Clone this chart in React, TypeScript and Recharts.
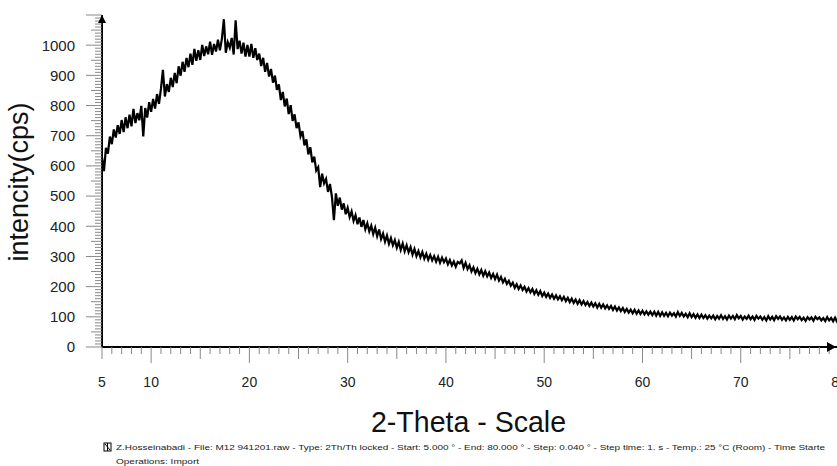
import { LineChart, Line, XAxis, YAxis } from "recharts";

// scan definition (2-theta, degrees) - points read every 0.2 deg off the pattern
const START = 5;
const STEP = 0.2;

const intensity = [
    628, 583, 660, 641, 697,
    672, 721, 694, 735, 706,
    752, 712, 761, 725, 770,
    731, 789, 742, 775, 751,
    799, 698, 792, 760, 811,
    779, 822, 790, 838, 806,
    856, 918, 830, 871, 845,
    892, 861, 908, 874, 930,
    899, 945, 912, 958, 927,
    972, 935, 988, 948, 983,
    951, 1001, 964, 996, 970,
    1012, 968, 1004, 979, 1018,
    983, 1021, 1086, 975, 1010,
    992, 1024, 969, 1082, 987,
    1015, 972, 1008, 962, 1001,
    962, 1004, 958, 990, 951,
    972, 931, 958, 912, 941,
    896, 921, 876, 899, 852,
    870, 818, 845, 797, 823,
    772, 801, 749, 771, 725,
    744, 698, 715, 668, 688,
    638, 662, 612, 631, 585,
    596, 530, 574, 542, 557,
    514, 540, 497, 420, 509,
    468, 495, 455, 476, 440,
    461, 430, 449, 418, 437,
    407, 429, 398, 421, 390,
    410, 383, 402, 374, 395,
    367, 389, 358, 376, 349,
    369, 342, 361, 337, 354,
    329, 348, 322, 343, 317,
    337, 314, 331, 306, 325,
    301, 318, 297, 315, 293,
    309, 289, 305, 287, 301,
    283, 299, 279, 296, 281,
    293, 274, 288, 270, 283,
    266, 282, 277, 287, 262,
    279, 258, 271, 250, 264,
    245, 259, 241, 255, 236,
    251, 234, 247, 229, 242,
    225, 240, 220, 232, 214,
    226, 209, 219, 203, 213,
    196, 208, 192, 204, 189,
    199, 184, 195, 181, 192,
    176, 188, 173, 185, 169,
    180, 166, 177, 163, 174,
    160, 171, 158, 168, 155,
    166, 152, 163, 149, 160,
    146, 157, 143, 155, 141,
    152, 139, 149, 136, 147,
    134, 145, 131, 143, 130,
    141, 128, 138, 126, 136,
    123, 134, 121, 131, 119,
    129, 116, 126, 114, 124,
    112, 123, 110, 121, 109,
    120, 108, 118, 107, 117,
    106, 117, 104, 116, 103,
    115, 103, 113, 102, 114,
    104, 112, 101, 116, 103,
    113, 101, 110, 99, 112,
    99, 109, 97, 108, 96,
    107, 96, 105, 94, 104,
    95, 104, 92, 103, 94,
    105, 93, 102, 91, 104,
    94, 103, 92, 106, 95,
    103, 91, 101, 93, 104,
    92, 101, 90, 103, 94,
    101, 90, 99, 88, 102,
    91, 100, 89, 102, 93,
    101, 90, 98, 88, 100,
    90, 99, 88, 101, 92,
    100, 89, 97, 87, 99,
    91, 98, 87, 100, 92,
    98, 88, 96, 86, 99,
    88, 96, 85, 97, 84,
    90,
];

const xLabels = [5, 10, 20, 30, 40, 50, 60, 70, 80];
const yLabels = [0, 100, 200, 300, 400, 500, 600, 700, 800, 900, 1000];
const xTicks = Array.from({ length: 76 }, (_, i) => 5 + i);
const yTicks = Array.from({ length: 111 }, (_, i) => i * 10);

const footer =
    "Z.Hosseinabadi - File: M12 941201.raw - Type: 2Th/Th locked - Start: 5.000 ° - End: 80.000 ° - Step: 0.040 ° - Step time: 1. s - Temp.: 25 °C (Room) - Time Starte";

const data = intensity.map((v, i) => ({
    theta: Math.round((START + i * STEP) * 100) / 100,
    cps: v,
}));

const FONT = "'Liberation Sans', Arial, sans-serif";

const XTick = ({ x, y, payload }: any) => {
    const v = payload.value;
    const len = v % 10 === 0 ? 16 : v % 5 === 0 ? 12 : 7;
    return (
        <g>
            <line x1={x} y1={y} x2={x} y2={y + len} stroke="#888" strokeWidth={1} />
            {xLabels.includes(v) && (
                <text x={x} y={y + 40} textAnchor="middle" fontSize={14} fill="#222" fontFamily={FONT}>
                    {v}
                </text>
            )}
            {v === 80 && (
                <polygon points={`${x - 3},${y} ${x - 12},${y - 5} ${x - 12},${y + 5}`} fill="#000" />
            )}
        </g>
    );
};

const YTick = ({ x, y, payload }: any) => {
    const v = payload.value;
    const len = v % 100 === 0 ? 16 : v % 50 === 0 ? 11 : 7;
    return (
        <g>
            <line x1={x - len} y1={y} x2={x} y2={y} stroke="#888" strokeWidth={1} />
            {yLabels.includes(v) && (
                <text x={x - 27} y={y} dy="0.36em" textAnchor="end" fontSize={15} fill="#222" fontFamily={FONT}>
                    {v}
                </text>
            )}
            {v === 1100 && <polygon points={`${x},${y} ${x - 4},${y + 8} ${x + 4},${y + 8}`} fill="#000" />}
        </g>
    );
};

export default function App() {
    return (
        <div style={{ position: "absolute", left: 0, top: 0, width: 837, height: 466, overflow: "hidden", background: "#fff" }}>
            <LineChart width={845} height={466} data={data} margin={{ top: 15, right: 6, bottom: 0, left: 0 }}>
                <XAxis
                    dataKey="theta"
                    type="number"
                    domain={[5, 80]}
                    ticks={xTicks}
                    interval={0}
                    height={119}
                    tickSize={0}
                    tickMargin={0}
                    tickLine={false}
                    tick={<XTick />}
                    axisLine={{ stroke: "#000", strokeWidth: 2 }}
                    allowDataOverflow
                />
                <YAxis
                    type="number"
                    domain={[0, 1100]}
                    ticks={yTicks}
                    interval={0}
                    width={102}
                    tickSize={0}
                    tickMargin={0}
                    tickLine={false}
                    tick={<YTick />}
                    axisLine={{ stroke: "#000", strokeWidth: 2 }}
                    allowDataOverflow
                />
                <Line
                    type="linear"
                    dataKey="cps"
                    stroke="#000"
                    strokeWidth={2.2}
                    strokeLinejoin="miter"
                    dot={false}
                    isAnimationActive={false}
                />
            </LineChart>

            {/* titles + instrument footer */}
            <svg width={837} height={466} style={{ position: "absolute", left: 0, top: 0, pointerEvents: "none" }}>
                <text
                    transform="translate(28,182) rotate(-90)"
                    textAnchor="middle"
                    fontSize={27}
                    fill="#111"
                    fontFamily={FONT}
                >
                    intencity(cps)
                </text>
                <text x={371} y={432} fontSize={30} fill="#111" fontFamily={FONT} textLength={195} lengthAdjust="spacingAndGlyphs">
                    2-Theta - Scale
                </text>
                <rect x={104} y={443} width={7} height={8} fill="#fff" stroke="#000" strokeWidth={1} />
                <line x1={105} y1={444} x2={110} y2={450} stroke="#000" strokeWidth={1} />
                <line x1={107.5} y1={443} x2={107.5} y2={451} stroke="#000" strokeWidth={1} />
                <text x={116} y={450} fontSize={8} fill="#222" fontFamily={FONT} textLength={709} lengthAdjust="spacingAndGlyphs">
                    {footer}
                </text>
                <text x={116} y={464} fontSize={8} fill="#222" fontFamily={FONT} textLength={83} lengthAdjust="spacingAndGlyphs">
                    Operations: Import
                </text>
            </svg>
        </div>
    );
}
